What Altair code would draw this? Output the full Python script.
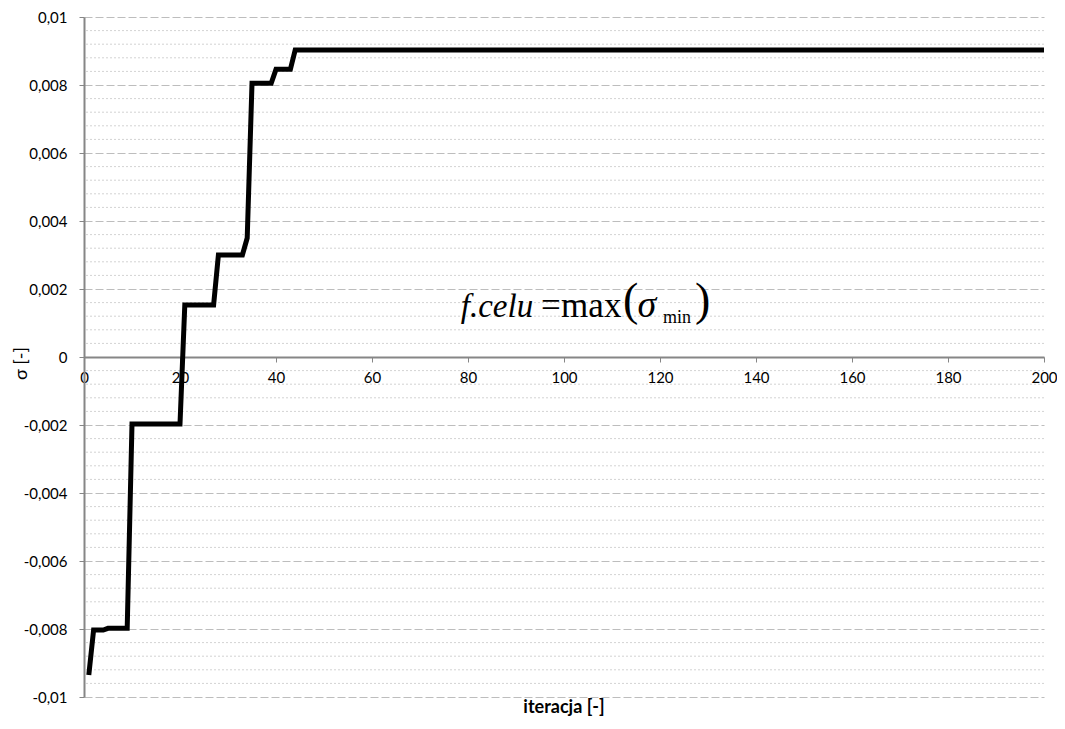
import altair as alt
import pandas as pd

# step line: iteration vs sigma
iters = [1, 2, 4, 5, 9, 10, 20, 21, 27, 28, 33, 34, 35, 39, 40, 43, 44, 200]
sigma = [-0.00935, -0.00803, -0.00803, -0.00798, -0.00798, -0.00197, -0.00197,
         0.00153, 0.00153, 0.00300, 0.00300, 0.00350, 0.00805, 0.00805,
         0.00846, 0.00846, 0.00903, 0.00903]

y_major = [-0.01, -0.008, -0.006, -0.004, -0.002, 0, 0.002, 0.004, 0.006, 0.008, 0.01]
y_minor = [v / 10000 for v in range(-100, 101, 4) if v % 20 != 0]
x_ticks = [0, 20, 40, 60, 80, 100, 120, 140, 160, 180, 200]

# formula pieces (text, x, y)
f_func = ["f.celu"]
f_func_x = [78.5]
f_func_y = [0.00118]
f_sigma = ["σ"]
f_sigma_x = [115.3]
f_sigma_y = [0.00118]
f_normal = ["=", "max"]
f_normal_x = [95.2, 99.4]
f_normal_y = [0.00118, 0.00118]
f_paren = ["(", ")"]
f_paren_x = [112.3, 127.3]
f_paren_y = [0.00124, 0.00124]
f_sub = ["min"]
f_sub_x = [120.6]
f_sub_y = [0.00100]

W, H = 960, 680
xs = alt.Scale(domain=[0, 200], nice=False, zero=False)
ys = alt.Scale(domain=[-0.01, 0.01], nice=False)

line_df = pd.DataFrame({"x": iters, "y": sigma})
minor_df = pd.DataFrame({"y": y_minor})

minor = alt.Chart(minor_df).mark_rule(
    color="#d3d3d3", strokeWidth=1, strokeDash=[2, 2]
).encode(y=alt.Y("y:Q", scale=ys))

line = alt.Chart(line_df).mark_line(color="black", strokeWidth=5, strokeJoin="miter").encode(
    x=alt.X("x:Q", scale=xs, axis=alt.Axis(
        values=x_ticks, title=None, offset=-340, orient="bottom",
        grid=False, domainColor="#868686", domainWidth=2, tickColor="#868686",
        tickSize=5, labelFont="Lato", labelFontSize=15, labelColor="black",
        labelPadding=8, labelFlush=False)),
    y=alt.Y("y:Q", scale=ys, axis=alt.Axis(
        values=y_major, title="σ [-]", titleFont="Lato", titleFontSize=18,
        titleFontWeight="normal", titleColor="black", titleX=-63, titleY=346,
        titleBaseline="middle", titleAngle=270,
        labelExpr="replace(replace(format(datum.value, '.3~f'), '.', ','), '\u2212', '-')",
        labelFont="Lato", labelFontSize=15, labelColor="black", labelPadding=12,
        domainColor="#868686", domainWidth=2, tickColor="#868686", tickSize=5,
        grid=True, gridColor="#bdbdbd", gridDash=[8, 3], gridWidth=1)),
)


def txt(texts, xv, yv, size, style):
    df = pd.DataFrame({"t": texts, "x": xv, "y": yv})
    return alt.Chart(df).mark_text(
        font="Liberation Serif", fontSize=size, fontStyle=style,
        align="left", baseline="alphabetic", color="black"
    ).encode(x=alt.X("x:Q", scale=xs), y=alt.Y("y:Q", scale=ys), text="t:N")


formula = (
    txt(f_func, f_func_x, f_func_y, 33, "italic")
    + txt(f_sigma, f_sigma_x, f_sigma_y, 38, "italic")
    + txt(f_normal, f_normal_x, f_normal_y, 35, "normal")
    + txt(f_paren, f_paren_x, f_paren_y, 46, "normal")
    + txt(f_sub, f_sub_x, f_sub_y, 18, "normal")
)

chart = alt.layer(minor, line, formula).properties(
    width=W, height=H,
    autosize=alt.AutoSizeParams(type="none"),
    title=alt.TitleParams("iteracja [-]", orient="bottom", anchor="middle",
                          font="Lato", fontSize=18, fontWeight="bold",
                          color="black", offset=-6),
    padding={"left": 76, "top": 9, "right": 13, "bottom": 24},
).configure_view(stroke=None).configure_axis(labelOverlap=False)

chart.save("out.html", embed_options={"renderer": "svg", "actions": False})
